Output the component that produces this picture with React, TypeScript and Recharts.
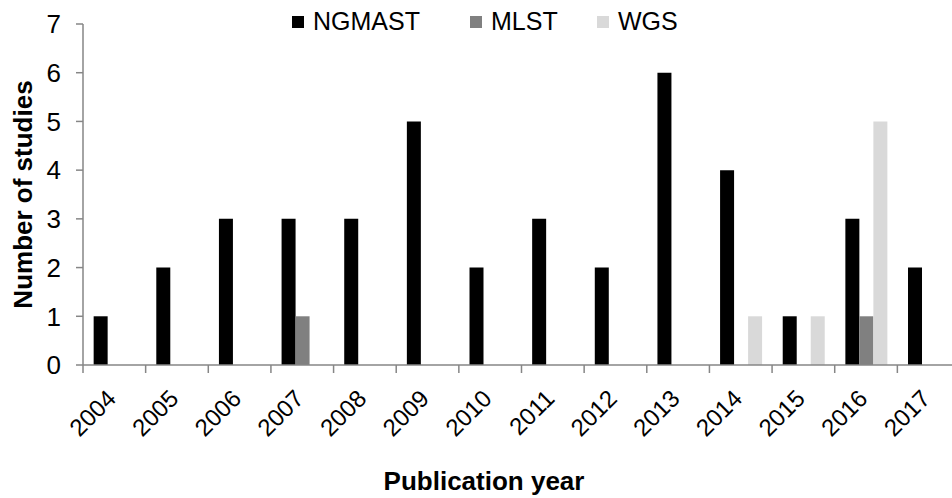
import { BarChart, Bar, XAxis, YAxis } from "recharts";

const years = ["2004", "2005", "2006", "2007", "2008", "2009", "2010", "2011", "2012", "2013", "2014", "2015", "2016", "2017"];
const ngmast = [1, 2, 3, 3, 3, 5, 2, 3, 2, 6, 4, 1, 3, 2];
const mlst = [0, 0, 0, 1, 0, 0, 0, 0, 0, 0, 0, 0, 1, 0];
const wgs = [0, 0, 0, 0, 0, 0, 0, 0, 0, 0, 1, 1, 5, 0];
const yTicks = [0, 1, 2, 3, 4, 5, 6, 7];

const seriesInfo = [
  { key: "ngmast", name: "NGMAST", color: "#000000", left: 292 },
  { key: "mlst", name: "MLST", color: "#808080", left: 470 },
  { key: "wgs", name: "WGS", color: "#d9d9d9", left: 597 },
];

const data = years.map((year, i) => ({ year, ngmast: ngmast[i], mlst: mlst[i], wgs: wgs[i] }));

const FONT = "'Liberation Sans', Arial, sans-serif";
const AXIS = "#868686";
const CHART_W = 965;
const CHART_H = 498;
const MARGIN = { top: 24, right: 5, bottom: 0, left: 0 };
const Y_W = 83;
const X_H = 133;
const BAND = (CHART_W - MARGIN.right - MARGIN.left - Y_W) / years.length;

const YearTick = ({ x, y, payload }: any) => {
  const axisY = y - 8;
  const tx = x + 3;
  const ty = axisY + 35;
  return (
    <g>
      <line x1={x - BAND / 2} x2={x - BAND / 2} y1={axisY} y2={axisY + 8} stroke={AXIS} strokeWidth={1.5} />
      <text x={tx} y={ty} textAnchor="end" fontSize={24} fill="#000" fontFamily={FONT}
        transform={`rotate(-45, ${tx}, ${ty})`}>
        {payload.value}
      </text>
    </g>
  );
};

const YTitle = ({ viewBox }: any) => {
  const cx = viewBox.x + 32;
  const cy = viewBox.y + viewBox.height / 2;
  return (
    <text x={cx} y={cy} textAnchor="middle" fontSize={26} fontWeight="bold" fill="#000" fontFamily={FONT}
      transform={`rotate(-90, ${cx}, ${cy})`}>
      Number of studies
    </text>
  );
};

const XTitle = () => (
  <text x={484} y={490} textAnchor="middle" fontSize={26} fontWeight="bold" fill="#000" fontFamily={FONT}>
    Publication year
  </text>
);

export default function App() {
  return (
    <div style={{ position: "absolute", left: 0, top: 0, width: 952, height: 498, overflow: "hidden", background: "#fff", fontFamily: FONT }}>
      <BarChart width={CHART_W} height={CHART_H} data={data} margin={MARGIN} barCategoryGap="17%" barGap={0}>
        <XAxis dataKey="year" height={X_H} tickLine={false} axisLine={{ stroke: AXIS, strokeWidth: 1.5 }}
          tick={<YearTick />} interval={0} label={<XTitle />} />
        <YAxis width={Y_W} domain={[0, 7]} ticks={yTicks} tickSize={7} tickMargin={15}
          axisLine={{ stroke: AXIS, strokeWidth: 1.5 }} tickLine={{ stroke: AXIS, strokeWidth: 1.5 }}
          tick={{ fill: "#000", fontSize: 26, fontFamily: FONT }} label={<YTitle />} />
        {seriesInfo.map((s) => (
          <Bar key={s.key} dataKey={s.key} name={s.name} fill={s.color} isAnimationActive={false} />
        ))}
      </BarChart>
      {seriesInfo.map((s) => (
        <div key={s.key} style={{ position: "absolute", top: 6, left: s.left, display: "flex", alignItems: "center", fontSize: 25, color: "#000", lineHeight: "30px" }}>
          <span style={{ display: "inline-block", width: 12, height: 12, background: s.color, marginRight: 9, marginTop: 2 }} />
          {s.name}
        </div>
      ))}
    </div>
  );
}
